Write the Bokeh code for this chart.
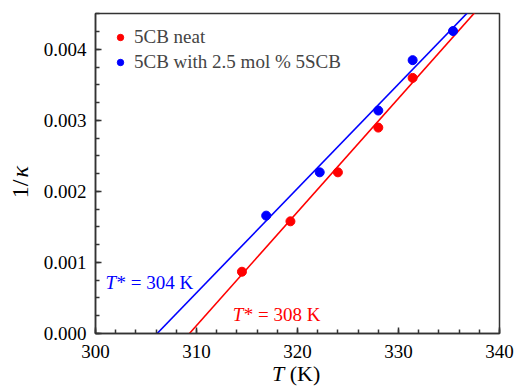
import numpy as np
from bokeh.plotting import figure
from bokeh.layouts import row, column
from bokeh.models import (Range1d, Label, Legend, LegendItem, FixedTicker,
                          PrintfTickFormatter, Div)
from bokeh.embed import file_html
from bokeh.resources import INLINE

# ---- data ----
neat_T = [314.5, 319.3, 324.0, 328.0, 331.4]
neat_inv_k = [0.00087, 0.00158, 0.00227, 0.00290, 0.00360]
mix_T = [316.9, 322.2, 328.0, 331.4, 335.4]
mix_inv_k = [0.00166, 0.00227, 0.00314, 0.00385, 0.00426]
# fitted lines: x-intercept (K) and slope (1/K)
neat_fit = {"x0": 309.3, "slope": 0.000160}
mix_fit = {"x0": 306.1, "slope": 0.000147}
x_ticks = [300, 310, 320, 330, 340]
y_ticks = [0.000, 0.001, 0.002, 0.003, 0.004]
labels = ["5CB neat", "5CB with 2.5 mol % 5SCB"]
tstar_labels = ["* = 308 K", "* = 304 K"]

RED = "#ff0000"
BLUE = "#0000ff"
FONT = "'Liberation Serif', 'Times New Roman', serif"
AX = "#333333"

YW = 40  # width of the y-title column
PW = 475  # figure width

p = figure(width=PW, height=360, output_backend="svg",
           toolbar_location=None,
           x_range=Range1d(300, 340), y_range=Range1d(0, 0.004507),
           min_border_left=52, min_border_right=16, min_border_top=13,
           min_border_bottom=27, background_fill_color="white",
           border_fill_color="white", margin=0)
p.xgrid.visible = False
p.ygrid.visible = False
p.outline_line_color = AX
p.outline_line_width = 1.5

for ax in (p.xaxis[0], p.yaxis[0]):
    ax.axis_line_color = AX
    ax.axis_line_width = 1.5
    ax.major_tick_line_color = AX
    ax.minor_tick_line_color = AX
    ax.major_tick_line_width = 1.5
    ax.minor_tick_line_width = 1.5
    ax.major_tick_in = 6
    ax.major_tick_out = 0
    ax.minor_tick_in = 4
    ax.minor_tick_out = 0
    ax.major_label_text_font = FONT
    ax.major_label_text_font_size = "19px"
    ax.major_label_text_color = "black"
    ax.axis_label = None

p.xaxis.ticker = FixedTicker(ticks=x_ticks,
                             minor_ticks=list(np.arange(300, 341, 2)))
p.yaxis.ticker = FixedTicker(ticks=y_ticks,
                             minor_ticks=list(np.arange(0, 0.00451, 0.00025)))
p.yaxis.formatter = PrintfTickFormatter(format="%.3f")
p.xaxis.major_label_standoff = 11
p.yaxis.major_label_standoff = 9

# fit lines
for fit, col in ((neat_fit, RED), (mix_fit, BLUE)):
    xs = [fit["x0"], 340]
    ys = [0, fit["slope"] * (340 - fit["x0"])]
    p.line(xs, ys, line_color=col, line_width=1.6)

r1 = p.scatter(neat_T, neat_inv_k, size=9, color=RED)
r2 = p.scatter(mix_T, mix_inv_k, size=9, color=BLUE)

legend = Legend(items=[LegendItem(label=labels[0], renderers=[r1]),
                       LegendItem(label=labels[1], renderers=[r2])],
                location=(17, 260), border_line_color=None,
                background_fill_alpha=0, padding=0, margin=0, spacing=3,
                glyph_width=16, glyph_height=20, label_height=20,
                label_standoff=6, label_text_font=FONT,
                label_text_font_size="19px")
p.add_layout(legend)

# T* annotations ("T" italic, rest upright)
for (tx, ty, txt, col) in ((313.6, 0.000117, tstar_labels[0], RED),
                           (301.0, 0.000575, tstar_labels[1], BLUE)):
    p.add_layout(Label(x=tx, y=ty, text="T", text_font=FONT,
                       text_font_style="italic", text_font_size="19px",
                       text_color=col))
    p.add_layout(Label(x=tx, y=ty, x_offset=11, text=txt, text_font=FONT,
                       text_font_size="19px", text_color=col))

# axis titles as HTML (mixed italic / upright)
ydiv = Div(width=YW, height=386, margin=0,
           text=("<div style=\"width:%dpx;height:365px;display:flex;"
                 "align-items:center;justify-content:center;"
                 "font-family:'Liberation Serif',serif;font-size:24px;"
                 "color:black;\"><span style=\"display:inline-block;"
                 "white-space:nowrap;transform:rotate(-90deg);\">"
                 "1/<i style=\"padding-left:2px\">κ</i></span></div>") % YW)
xdiv = Div(width=PW, height=26, margin=0,
           text=("<div style=\"margin-left:%dpx;padding-top:2px;"
                 "font-family:'Liberation Serif',serif;font-size:22px;"
                 "line-height:24px;color:black;white-space:nowrap;\">"
                 "<i>T</i> (K)</div>") % (272 - YW))

layout = row(ydiv, column(p, xdiv, spacing=0), spacing=0)

open("out.html", "w").write(file_html(layout, INLINE))
